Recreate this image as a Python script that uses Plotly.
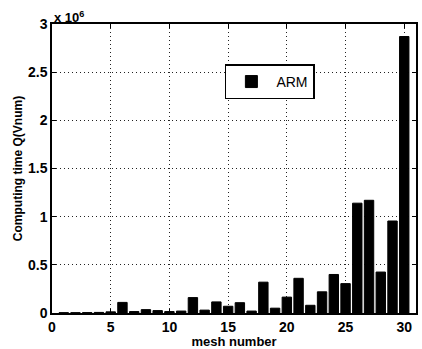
import plotly.graph_objects as go

mesh = list(range(1, 31))
# Computing time in units of 10^6
q_arm = [0.003, 0.003, 0.004, 0.006, 0.012, 0.11, 0.015, 0.035, 0.025, 0.015,
         0.02, 0.16, 0.03, 0.115, 0.07, 0.107, 0.02, 0.32, 0.05, 0.165,
         0.36, 0.08, 0.22, 0.40, 0.305, 1.14, 1.17, 0.425, 0.955, 2.87]
xticks = [0, 5, 10, 15, 20, 25, 30]
xtick_text = ["0", "5", "10", "15", "20", "25", "30"]
yticks = [0, 0.5, 1, 1.5, 2, 2.5, 3]
ytick_text = ["0", "0.5", "1", "1.5", "2", "2.5", "3"]

font = "Liberation Sans"

fig = go.Figure()
fig.add_trace(go.Bar(x=mesh, y=q_arm, width=0.8, name="ARM",
                     marker=dict(color="black", line=dict(color="black", width=1))))

axis_common = dict(showline=True, linecolor="black", linewidth=1.5, mirror="ticks",
                   ticks="inside", ticklen=4, tickcolor="black",
                   showgrid=True, gridcolor="#222222", griddash="1px,3px", gridwidth=1,
                   zeroline=False,
                   tickfont=dict(family=font, size=14, color="black", weight=700))

fig.update_layout(
    width=422, height=349,
    margin=dict(l=52, r=4, t=24, b=36),
    paper_bgcolor="white", plot_bgcolor="white",
    font=dict(family=font, color="black"),
    bargap=0.2,
    xaxis=dict(range=[0, 31], tickvals=xticks, ticktext=xtick_text,
               title=dict(text="<b>mesh number</b>", font=dict(family=font, size=13), standoff=1),
               **axis_common),
    yaxis=dict(range=[0, 3], tickvals=yticks, ticktext=ytick_text,
               title=dict(text="<b>Computing time Q(Vnum)</b>", font=dict(family=font, size=12), standoff=3),
               **axis_common),
    legend=dict(x=0.475, y=0.86, xanchor="left", yanchor="top",
                bgcolor="white", bordercolor="black", borderwidth=1.5,
                font=dict(family=font, size=14, color="black"),
                itemwidth=40, tracegroupgap=0),
    showlegend=True,
    annotations=[dict(text="<b>x 10<sup>6</sup></b>", xref="paper", yref="paper",
                      x=0.0, y=1.0, xanchor="left", yanchor="bottom", showarrow=False,
                      font=dict(family=font, size=13, color="black"), yshift=-3)],
)

fig.write_html("out.html")
